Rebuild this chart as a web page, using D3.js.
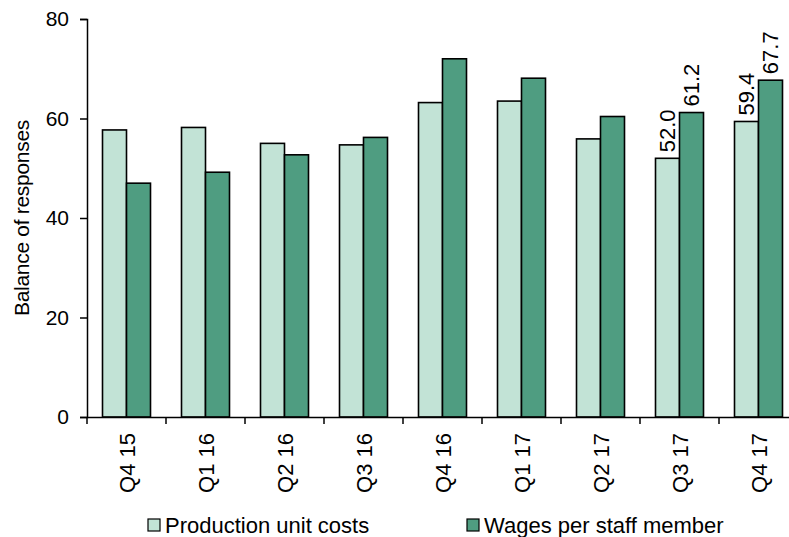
<!DOCTYPE html>
<html>
<head>
	<meta charset="utf-8">
	<script src="https://cdn.jsdelivr.net/npm/d3@7"></script>
</head>
<style type="text/css">
	body {margin:0; background-color:#ffffff;}
	text {font-family:"Liberation Sans", Arial, sans-serif; fill:#000;}
</style>
<body>
</body>
</html>
<script type="text/javascript">
	var width = 789;
	var height = 537;
	var margin = {left:87, top:19};
	var h = 398;
	var step = 79;

	var categories = ["Q4 15","Q1 16","Q2 16","Q3 16","Q4 16","Q1 17","Q2 17","Q3 17","Q4 17"];
	var seriesNames = ["Production unit costs","Wages per staff member"];
	var production = [57.7, 58.2, 55.0, 54.7, 63.2, 63.5, 55.9, 52.0, 59.4];
	var wages = [47.0, 49.2, 52.7, 56.2, 72.0, 68.1, 60.4, 61.2, 67.7];
	var labelled = ["Q3 17","Q4 17"];
	var yTicks = [0, 20, 40, 60, 80];
	var colors = ["#c2e3d6", "#4f9d81"];

	var svg = d3.select("body").append("svg").attr("width", width).attr("height", height);

	var x0 = d3.scaleBand().domain(categories).range([margin.left, margin.left + categories.length*step]).padding(0);
	var x1 = d3.scaleBand().domain(seriesNames).range([0, step]).paddingInner(0).paddingOuter(0.646);
	var y = d3.scaleLinear().domain([0, 80]).range([margin.top + h, margin.top]);

	var rows = categories.map(function(c, i){ return {cat:c, vals:[production[i], wages[i]]}; });

	// bars
	var groups = svg.selectAll("g.grp").data(rows).enter().append("g")
		.attr("transform", function(d){ return "translate(" + x0(d.cat) + ",0)"; });
	groups.selectAll("rect").data(function(d){ return d.vals.map(function(v, j){ return {s:seriesNames[j], v:v, j:j, cat:d.cat}; }); })
		.enter().append("rect")
		.attr("x", function(d){ return x1(d.s); })
		.attr("y", function(d){ return y(d.v); })
		.attr("width", x1.bandwidth())
		.attr("height", function(d){ return y(0) - y(d.v); })
		.attr("fill", function(d){ return colors[d.j]; })
		.attr("stroke", "#000").attr("stroke-width", 1.6);

	// value labels on the last two quarters
	groups.filter(function(d){ return labelled.indexOf(d.cat) >= 0; })
		.selectAll("text.val").data(function(d){ return d.vals.map(function(v, j){ return {s:seriesNames[j], v:v}; }); })
		.enter().append("text")
		.attr("transform", function(d){ return "translate(" + (x1(d.s) + x1.bandwidth()/2) + "," + (y(d.v) - 6) + ") rotate(-90)"; })
		.attr("dy", "0.35em")
		.style("font-size", "22px")
		.text(function(d){ return d.v.toFixed(1); });

	// y axis
	var yAxis = svg.append("g").attr("transform", "translate(" + margin.left + ",0)")
		.call(d3.axisLeft(y).tickValues(yTicks).tickSize(7).tickPadding(11));
	yAxis.selectAll("text").style("font-size", "21px").attr("fill", "#000");

	// x axis
	var xAxis = svg.append("g").attr("transform", "translate(0," + y(0) + ")")
		.call(d3.axisBottom(x0).tickSize(0).tickPadding(0));
	xAxis.selectAll("text")
		.style("font-size", "22px")
		.attr("text-anchor", "end")
		.attr("transform", "translate(0,16) rotate(-90)")
		.attr("x", 0).attr("y", 0).attr("dy", "0.37em");
	xAxis.selectAll(".sep").data(categories).enter().append("line")
		.attr("x1", function(d){ return x0(d); }).attr("x2", function(d){ return x0(d); })
		.attr("y1", 0).attr("y2", 7).attr("stroke", "#000");
	svg.selectAll(".domain, .tick line").attr("stroke", "#000").attr("stroke-width", 1.5);
	xAxis.selectAll("line").attr("stroke-width", 1.5);

	// axis title
	svg.append("text")
		.attr("transform", "translate(29," + (margin.top + h/2) + ") rotate(-90)")
		.attr("text-anchor", "middle")
		.style("font-size", "21px")
		.style("letter-spacing", "-0.3px")
		.text("Balance of responses");

	// legend
	var legendX = [148, 467];
	var legend = svg.selectAll("g.leg").data(seriesNames).enter().append("g")
		.attr("transform", function(d, i){ return "translate(" + legendX[i] + ",519)"; });
	legend.append("rect").attr("width", 12).attr("height", 12)
		.attr("fill", function(d, i){ return colors[i]; })
		.attr("stroke", "#000").attr("stroke-width", 1.2);
	legend.append("text").attr("x", 17).attr("y", 14)
		.style("font-size", "22px")
		.text(function(d){ return d; });
</script>
